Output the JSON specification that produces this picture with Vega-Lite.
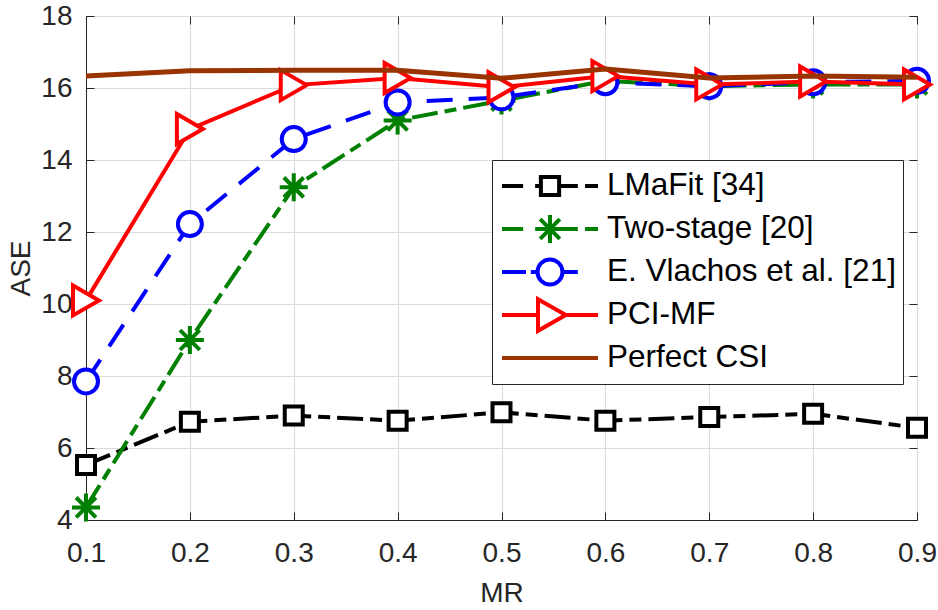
{
  "$schema": "https://vega.github.io/schema/vega-lite/v6.json",
  "width": 831,
  "height": 504,
  "autosize": {"type": "none"},
  "padding": {"left": 86, "top": 16, "right": 21, "bottom": 90},
  "background": "white",
  "config": {
    "font": "Liberation Sans",
    "view": {"stroke": "#262626", "strokeWidth": 1},
    "axis": {
      "domainColor": "#262626",
      "tickColor": "#262626",
      "labelColor": "#262626",
      "labelFont": "Liberation Sans",
      "labelFontSize": 28,
      "labelFlush": false,
      "labelOverlap": false,
      "titleFont": "Liberation Sans",
      "titleFontSize": 28,
      "titleFontWeight": "normal",
      "titleColor": "#262626",
      "gridColor": "#dcdcdc",
      "gridWidth": 1.2
    }
  },
  "data": {
    "values": [
      {"method": "LMaFit [34]", "MR": 0.1, "ASE": 5.53},
      {"method": "LMaFit [34]", "MR": 0.2, "ASE": 6.73},
      {"method": "LMaFit [34]", "MR": 0.3, "ASE": 6.9},
      {"method": "LMaFit [34]", "MR": 0.4, "ASE": 6.76},
      {"method": "LMaFit [34]", "MR": 0.5, "ASE": 6.99},
      {"method": "LMaFit [34]", "MR": 0.6, "ASE": 6.76},
      {"method": "LMaFit [34]", "MR": 0.7, "ASE": 6.86},
      {"method": "LMaFit [34]", "MR": 0.8, "ASE": 6.95},
      {"method": "LMaFit [34]", "MR": 0.9, "ASE": 6.56},
      {"method": "Two-stage [20]", "MR": 0.1, "ASE": 4.35},
      {"method": "Two-stage [20]", "MR": 0.2, "ASE": 9.0},
      {"method": "Two-stage [20]", "MR": 0.3, "ASE": 13.24},
      {"method": "Two-stage [20]", "MR": 0.4, "ASE": 15.1},
      {"method": "Two-stage [20]", "MR": 0.5, "ASE": 15.65},
      {"method": "Two-stage [20]", "MR": 0.6, "ASE": 16.2},
      {"method": "Two-stage [20]", "MR": 0.7, "ASE": 16.05},
      {"method": "Two-stage [20]", "MR": 0.8, "ASE": 16.1},
      {"method": "Two-stage [20]", "MR": 0.9, "ASE": 16.1},
      {"method": "E. Vlachos et al. [21]", "MR": 0.1, "ASE": 7.85},
      {"method": "E. Vlachos et al. [21]", "MR": 0.2, "ASE": 12.22},
      {"method": "E. Vlachos et al. [21]", "MR": 0.3, "ASE": 14.58},
      {"method": "E. Vlachos et al. [21]", "MR": 0.4, "ASE": 15.6},
      {"method": "E. Vlachos et al. [21]", "MR": 0.5, "ASE": 15.74},
      {"method": "E. Vlachos et al. [21]", "MR": 0.6, "ASE": 16.16},
      {"method": "E. Vlachos et al. [21]", "MR": 0.7, "ASE": 16.05},
      {"method": "E. Vlachos et al. [21]", "MR": 0.8, "ASE": 16.16},
      {"method": "E. Vlachos et al. [21]", "MR": 0.9, "ASE": 16.2},
      {"method": "PCI-MF", "MR": 0.1, "ASE": 10.1},
      {"method": "PCI-MF", "MR": 0.2, "ASE": 14.86},
      {"method": "PCI-MF", "MR": 0.3, "ASE": 16.08},
      {"method": "PCI-MF", "MR": 0.4, "ASE": 16.28},
      {"method": "PCI-MF", "MR": 0.5, "ASE": 16.02},
      {"method": "PCI-MF", "MR": 0.6, "ASE": 16.33},
      {"method": "PCI-MF", "MR": 0.7, "ASE": 16.1},
      {"method": "PCI-MF", "MR": 0.8, "ASE": 16.18},
      {"method": "PCI-MF", "MR": 0.9, "ASE": 16.1},
      {"method": "Perfect CSI", "MR": 0.1, "ASE": 16.33},
      {"method": "Perfect CSI", "MR": 0.2, "ASE": 16.48},
      {"method": "Perfect CSI", "MR": 0.3, "ASE": 16.49},
      {"method": "Perfect CSI", "MR": 0.4, "ASE": 16.49},
      {"method": "Perfect CSI", "MR": 0.5, "ASE": 16.27},
      {"method": "Perfect CSI", "MR": 0.6, "ASE": 16.53},
      {"method": "Perfect CSI", "MR": 0.7, "ASE": 16.28},
      {"method": "Perfect CSI", "MR": 0.8, "ASE": 16.33},
      {"method": "Perfect CSI", "MR": 0.9, "ASE": 16.3}
    ]
  },
  "layer": [
    {
      "encoding": {
        "x": {
          "field": "MR",
          "type": "quantitative",
          "scale": {"domain": [0.1, 0.9], "nice": false, "zero": false},
          "axis": {
            "orient": "bottom",
            "title": "MR",
            "values": [0.1, 0.2, 0.3, 0.4, 0.5, 0.6, 0.7, 0.8, 0.9],
            "format": ".1f",
            "labelFontSize": 28,
            "labelFlush": false,
            "tickSize": -8,
            "labelPadding": 27,
            "titlePadding": 12,
            "grid": true
          }
        },
        "y": {
          "field": "ASE",
          "type": "quantitative",
          "scale": {"domain": [4, 18], "nice": false, "zero": false},
          "axis": {
            "orient": "left",
            "title": "ASE",
            "values": [4, 6, 8, 10, 12, 14, 16, 18],
            "labelFontSize": 28,
            "labelFlush": false,
            "tickSize": -8,
            "labelPadding": 22,
            "titlePadding": 5,
            "grid": true
          }
        },
        "color": {
          "field": "method",
          "type": "nominal",
          "scale": {
            "domain": ["LMaFit [34]", "Two-stage [20]", "E. Vlachos et al. [21]", "PCI-MF", "Perfect CSI"],
            "range": ["#000000", "#008000", "#0000ff", "#ff0000", "#993300"]
          },
          "legend": {
            "title": null,
            "orient": "none",
            "legendX": 406,
            "legendY": 144,
            "padding": 7,
            "strokeColor": "#262626",
            "fillColor": "white",
            "cornerRadius": 0,
            "labelFont": "Liberation Sans",
            "labelFontSize": 31.5,
            "labelColor": "#000000",
            "labelOffset": 7,
            "labelLimit": 500,
            "symbolSize": 9216,
            "symbolStrokeWidth": 4,
            "symbolFillColor": "white",
            "symbolOffset": 1,
            "clipHeight": 38,
            "rowPadding": 5,
            "encode": {
              "symbols": {
                "update": {
                  "shape": {
                    "signal": "datum.value === 'LMaFit [34]' ? 'M-1,0H-0.56M-0.31,0H-0.19M-0.19,-0.19H0.19V0.19H-0.19ZM0.19,0H0.58M0.73,0H1' : datum.value === 'Two-stage [20]' ? 'M-1,0H-0.56M-0.31,0H0.58M0.73,0H1M0,-0.29V0.29M-0.205,-0.205L0.205,0.205M-0.205,0.205L0.205,-0.205' : datum.value === 'E. Vlachos et al. [21]' ? 'M-1,0H-0.5M-0.4,0H-0.26M-0.26,0A0.26 0.26 0 1 0 0.26 0A0.26 0.26 0 1 0 -0.26 0ZM0.26,0H0.58' : datum.value === 'PCI-MF' ? 'M-1,0H-0.25M0.33,0H1M-0.25,-0.33L0.33,0L-0.25,0.33Z' : 'M-1,0H1'"
                  },
                  "fill": {"value": "white"},
                  "strokeDash": {"value": []},
                  "strokeWidth": {"value": 4},
                  "size": {"value": 9216},
                  "opacity": {"value": 1}
                }
              }
            }
          }
        }
      },
      "layer": [
        {
          "transform": [{"filter": "datum.method === 'LMaFit [34]'"}],
          "mark": {"type": "line", "strokeWidth": 4, "strokeDash": [26, 7, 12, 7]}
        },
        {
          "transform": [{"filter": "datum.method === 'LMaFit [34]'"}],
          "mark": {"type": "point", "shape": "square", "size": 324, "filled": false, "fill": "white", "strokeWidth": 4, "opacity": 1}
        },
        {
          "transform": [{"filter": "datum.method === 'Two-stage [20]'"}],
          "mark": {"type": "line", "strokeWidth": 4, "strokeDash": [26, 7, 12, 7]}
        },
        {
          "transform": [{"filter": "datum.method === 'Two-stage [20]'"}],
          "mark": {"type": "point", "shape": "M0,-1V1M-1,0H1M-0.7071,-0.7071L0.7071,0.7071M-0.7071,0.7071L0.7071,-0.7071", "size": 784, "filled": false, "strokeWidth": 4, "opacity": 1}
        },
        {
          "transform": [{"filter": "datum.method === 'E. Vlachos et al. [21]'"}],
          "mark": {"type": "line", "strokeWidth": 4, "strokeDash": [26, 16]}
        },
        {
          "transform": [{"filter": "datum.method === 'E. Vlachos et al. [21]'"}],
          "mark": {"type": "point", "shape": "circle", "size": 576, "filled": false, "fill": "white", "strokeWidth": 4, "opacity": 1}
        },
        {
          "transform": [{"filter": "datum.method === 'PCI-MF'"}],
          "mark": {"type": "line", "strokeWidth": 4}
        },
        {
          "transform": [{"filter": "datum.method === 'PCI-MF'"}],
          "mark": {"type": "point", "shape": "triangle-right", "size": 900, "filled": false, "fill": "white", "strokeWidth": 4, "opacity": 1}
        },
        {
          "transform": [{"filter": "datum.method === 'Perfect CSI'"}],
          "mark": {"type": "line", "strokeWidth": 5}
        }
      ]
    },
    {
      "mark": {"type": "point", "opacity": 0},
      "encoding": {
        "x": {
          "field": "MR",
          "type": "quantitative",
          "axis": {
            "orient": "top",
            "title": null,
            "labels": false,
            "domain": false,
            "grid": false,
            "values": [0.1, 0.2, 0.3, 0.4, 0.5, 0.6, 0.7, 0.8, 0.9],
            "tickSize": -8
          }
        },
        "y": {
          "field": "ASE",
          "type": "quantitative",
          "axis": {
            "orient": "right",
            "title": null,
            "labels": false,
            "domain": false,
            "grid": false,
            "values": [4, 6, 8, 10, 12, 14, 16, 18],
            "tickSize": -8
          }
        }
      }
    }
  ],
  "resolve": {"axis": {"x": "independent", "y": "independent"}}
}
